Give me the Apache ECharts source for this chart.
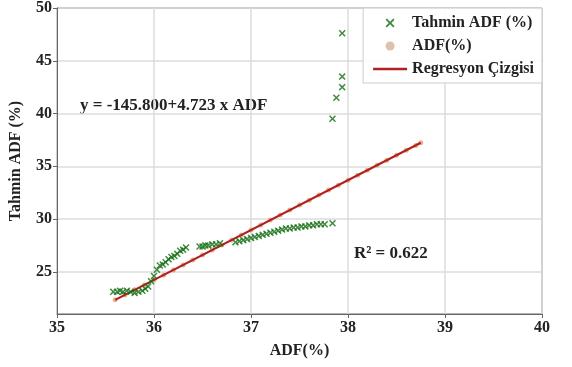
<!DOCTYPE html>
<html><head><meta charset="utf-8">
<script src="https://cdn.jsdelivr.net/npm/echarts@6/dist/echarts.min.js"></script>
<style>html,body{margin:0;padding:0;background:#fff}#c{width:572px;height:367px}</style>
</head><body><div id="c"></div>
<script>
// Observed ADF (%) values (x) and predicted ADF (%) (y)
const adfX = [35.58,35.62,35.65,35.68,35.72,35.76,35.80,35.84,35.88,35.91,35.94,35.97,36.00,36.03,36.06,36.09,36.12,36.15,36.18,36.21,36.24,36.27,36.30,36.33,
  36.47,36.50,36.53,36.56,36.60,36.64,36.68,36.84,36.88,36.92,36.96,37.00,37.04,37.08,37.12,37.16,37.20,37.24,37.28,37.32,37.36,37.40,37.44,37.48,37.52,37.56,37.60,37.64,37.68,37.72,37.76,37.84,
  37.84,37.88,37.94,37.94,37.94];
const tahminY = [23.1,23.1,23.2,23.1,23.2,23.1,23.0,23.1,23.2,23.4,23.6,24.1,24.6,25.2,25.6,25.7,25.9,26.2,26.4,26.5,26.7,27.0,27.1,27.3,
  27.4,27.4,27.5,27.5,27.6,27.6,27.7,27.8,27.9,28.0,28.1,28.2,28.3,28.4,28.5,28.6,28.7,28.8,28.9,29.0,29.1,29.1,29.2,29.2,29.3,29.3,29.4,29.4,29.5,29.5,29.5,29.6,
  39.5,41.5,42.5,43.5,47.6];
// Regression line endpoints
const lineX = [35.6, 38.75];
const lineY = [22.34, 37.22];
// Points along the regression (ADF(%) series)
const adfLineX = [35.6,35.7,35.8,35.9,36.0,36.1,36.2,36.3,36.4,36.5,36.6,36.7,36.8,36.9,37.0,37.1,37.2,37.3,37.4,37.5,37.6,37.7,37.8,37.9,38.0,38.1,38.2,38.3,38.4,38.5,38.6,38.7,38.75];
const adfLineY = [22.34,22.81,23.29,23.76,24.23,24.70,25.18,25.65,26.12,26.60,27.07,27.54,28.01,28.49,28.96,29.43,29.90,30.38,30.85,31.32,31.79,32.27,32.74,33.21,33.67,34.15,34.62,35.09,35.57,36.04,36.51,36.98,37.22];
const yTicks = [25,30,35,40,45,50];

const font = '"Liberation Serif","Times New Roman",serif';
const xPath = 'path://M0,1.5L1.5,0L5,3.5L8.5,0L10,1.5L6.5,5L10,8.5L8.5,10L5,6.5L1.5,10L0,8.5L3.5,5Z';
const chart = echarts.init(document.getElementById('c'));
chart.setOption({
  animation:false,
  grid:{left:53,right:30,top:8,bottom:53,show:true,borderColor:'#666',borderWidth:1},
  legend:{
    right:30, top:8, orient:'vertical', itemGap:7, itemWidth:34, itemHeight:9,
    padding:[7,8,6,10], borderColor:'#ccc', borderWidth:1, backgroundColor:'rgba(255,255,255,0.9)',
    textStyle:{fontFamily:font,fontWeight:'bold',fontSize:16,color:'#222'},
    data:[
      {name:'Tahmin ADF (%)', icon:xPath, itemStyle:{color:'#136d13'}},
      {name:'ADF(%)', icon:'circle', itemStyle:{color:'#d8b090'}},
      {name:'Regresyon Çizgisi', icon:'path://M0,0L30,0L30,2L0,2Z', itemStyle:{color:'#b02020'}}
    ]
  },
  xAxis:{type:'value',min:35,max:40,interval:1,
    name:'ADF(%)',nameLocation:'middle',nameGap:29,
    nameTextStyle:{fontFamily:font,fontWeight:'bold',fontSize:16,color:'#222'},
    axisLine:{lineStyle:{color:'#666'}},axisTick:{show:true,length:4,lineStyle:{color:'#666'}},
    axisLabel:{fontFamily:font,fontWeight:'bold',fontSize:16,color:'#222',margin:6},
    splitLine:{lineStyle:{color:'#ddd',width:1.5}}},
  yAxis:{type:'value',min:21,max:50,
    name:'Tahmin ADF (%)',nameLocation:'middle',nameGap:33,
    nameTextStyle:{fontFamily:font,fontWeight:'bold',fontSize:16,color:'#222'},
    axisLine:{show:true,lineStyle:{color:'#666'}},
    axisTick:{show:true,length:4,customValues:yTicks,lineStyle:{color:'#666'}},
    axisLabel:{customValues:yTicks,fontFamily:font,fontWeight:'bold',fontSize:16,color:'#222',margin:5},
    splitLine:{customValues:yTicks,lineStyle:{color:'#ddd',width:1.5}}},
  series:[
    {name:'ADF(%)',type:'scatter',symbol:'circle',symbolSize:5,z:2,
     itemStyle:{color:'#e0a070'},data:adfLineX.map((x,i)=>[x,adfLineY[i]])},
    {name:'Regresyon Çizgisi',type:'line',symbol:'none',z:3,
     lineStyle:{color:'#b02020',width:2.2},data:lineX.map((x,i)=>[x,lineY[i]])},
    {name:'Tahmin ADF (%)',type:'scatter',symbol:xPath,symbolSize:7,z:4,
     itemStyle:{color:'#136d13'},data:adfX.map((x,i)=>[x,tahminY[i]])}
  ],
  graphic:[
    {type:'text',left:80,top:97,style:{text:'y = -145.800+4.723 x ADF',font:'bold 17px '+font,fill:'#222'}},
    {type:'text',left:354,top:245,style:{text:'R² = 0.622',font:'bold 17px '+font,fill:'#222'}}
  ]
});
</script></body></html>
